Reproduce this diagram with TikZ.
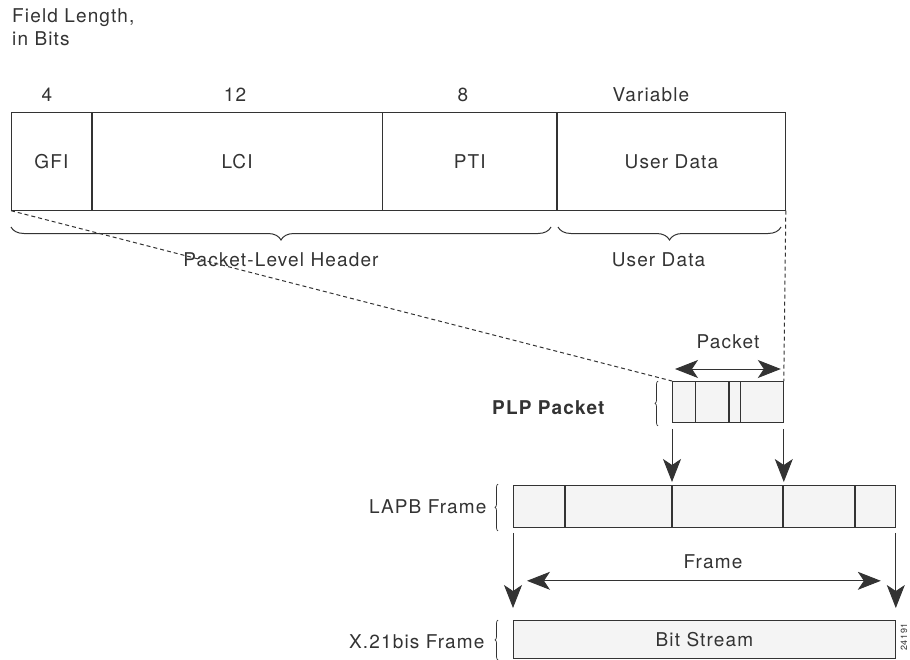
\documentclass[tikz,border=0pt]{standalone}
\usepackage{fontspec}
\setmainfont{TeX Gyre Heros}[LetterSpace=6]
\usetikzlibrary{arrows.meta,decorations.pathreplacing}
\definecolor{ink}{HTML}{333333}
\definecolor{cellgray}{HTML}{F4F4F4}
\tikzset{
  tipa/.tip={Stealth[length=23pt,width=18pt,inset=6pt,fill=ink]}}
\begin{document}
\begin{tikzpicture}[x=1pt,y=-1pt,
  font=\fontsize{19}{23}\selectfont,color=ink,
  field/.style={draw,line width=.7pt,minimum height=98pt,inner sep=0pt,anchor=north west},
  cell/.style={draw,fill=cellgray,line width=.8pt,minimum height=41pt,inner sep=0pt,anchor=north west},
  bigbrace/.style={decorate,decoration={brace,mirror,amplitude=13pt},line width=1pt},
  smallbrace/.style={decorate,decoration={brace,amplitude=3pt},line width=.7pt},
  link/.style={-tipa,line width=.9pt},
  span/.style={tipa-tipa,line width=.9pt}]
  \useasboundingbox (0,0) rectangle (910,659);
  \node[anchor=north west,align=left,inner sep=0pt] (fieldlen) at (12,8) {Field Length,\\in Bits};
  \node[field,minimum width=80pt] (gfi) at (11,112) {GFI};
  \node[field,minimum width=290pt] (lci) at (gfi.north east) {LCI};
  \node[field,minimum width=174pt] (pti) at (lci.north east) {PTI};
  \node[field,minimum width=228pt] (udata) at (pti.north east) {User Data};
  \foreach \x/\lab/\nm in {47/4/bitsa,235/12/bitsb,463/8/bitsc,651/Variable/bitsd}
    \node (\nm) at (\x,95) {\lab};
  \draw[bigbrace] (11,227) -- (551,227) node[midway,below=22pt] (hdrlbl) {Packet-Level Header};
  \draw[bigbrace] (558,227) -- (781,227) node[midway,below=22pt,xshift=-11pt] (datalbl) {User Data};
  \node[cell,minimum width=111pt] (plp) at (672,381) {};
  \foreach \d/\w in {23/.8pt,57/1.8pt,68/.8pt}
    \draw[line width=\w] ([xshift=\d pt]plp.north west) -- ([xshift=\d pt]plp.south west);
  \draw[dash pattern=on 4pt off 3pt,line width=1pt] (gfi.south west) -- (plp.north west);
  \draw[dash pattern=on 4pt off 3pt,line width=1pt] (udata.south east) -- (plp.north east);
  \draw[span] ([xshift=3pt,yshift=12pt]plp.north west) -- ([xshift=-3pt,yshift=12pt]plp.north east);
  \node (pktlbl) at (728,342) {Packet};
  \draw[smallbrace] ([xshift=-14pt,yshift=-3pt]plp.south west) -- ([xshift=-14pt]plp.north west);
  \node[anchor=east,font=\fontsize{19}{23}\selectfont\bfseries] (plplbl) at (608,408) {PLP Packet};
  \node[cell,minimum width=382pt,minimum height=42pt] (lapb) at (513,485) {};
  \foreach \d/\w in {52/1.8pt,159/1.2pt,270/1.2pt,342/1.8pt}
    \draw[line width=\w] ([xshift=\d pt]lapb.north west) -- ([xshift=\d pt]lapb.south west);
  \draw[link,shorten <=6pt,shorten >=3pt] (plp.south west) -- (plp.south west |- lapb.north);
  \draw[link,shorten <=6pt,shorten >=3pt] (plp.south east) -- (plp.south east |- lapb.north);
  \draw[smallbrace] ([xshift=-15pt,yshift=-3pt]lapb.south west) -- ([xshift=-15pt,yshift=1pt]lapb.north west);
  \node[anchor=east] (lapblbl) at (490,507) {LAPB Frame};
  \node[cell,minimum width=382pt,minimum height=38pt] (x21) at (513,620) {Bit Stream};
  \draw[link,shorten <=5pt,shorten >=12pt] (lapb.south west) -- (x21.north west);
  \draw[link,shorten <=5pt,shorten >=12pt] (lapb.south east) -- (x21.north east);
  \draw[span] ([xshift=14pt,yshift=-53pt]lapb.south west) -- ([xshift=-15pt,yshift=-53pt]lapb.south east);
  \node (framelbl) at (713,562) {Frame};
  \draw[smallbrace] ([xshift=-15pt,yshift=-1pt]x21.south west) -- ([xshift=-15pt]x21.north west);
  \node[anchor=east] (x21lbl) at (488,642) {X.21bis Frame};
  \node[rotate=90,font=\fontsize{9}{10}\selectfont] (figid) at (904,637) {24191};
\end{tikzpicture}
\end{document}
